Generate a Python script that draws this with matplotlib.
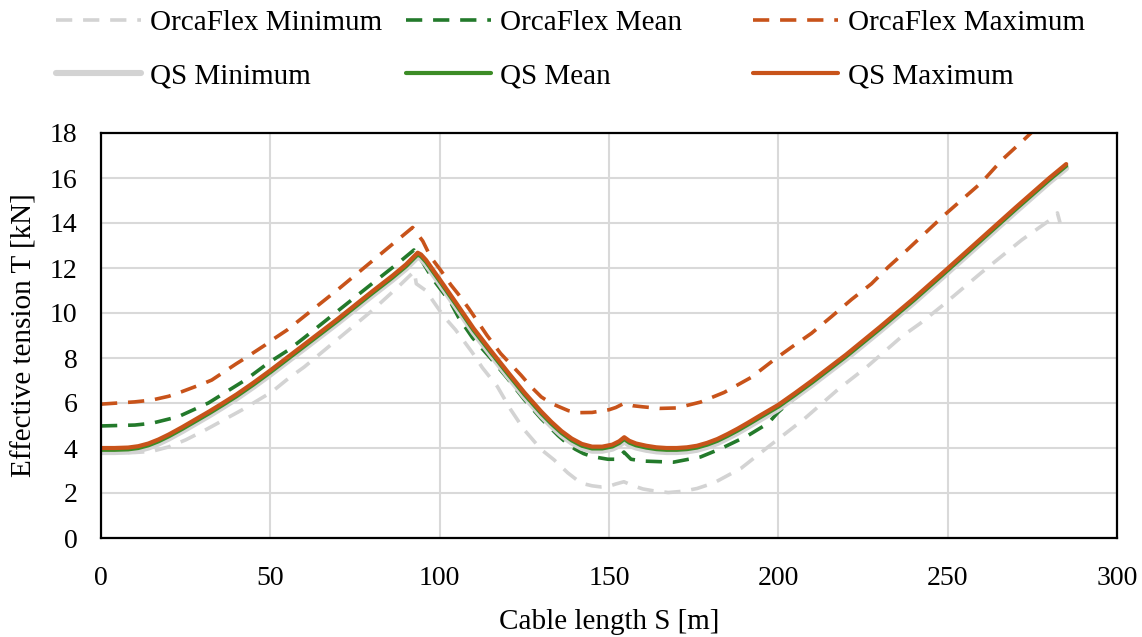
import matplotlib
matplotlib.use("Agg")
import matplotlib.pyplot as plt

plt.rcParams['font.family'] = ['Liberation Serif', 'DejaVu Serif']

# Effective tension along the cable, OrcaFlex dynamic envelope
of_min_s = [0, 10, 15, 20, 25, 30.8, 41.6, 50.5, 55.4, 60, 70, 80, 88, 92.5, 93.1,
            95.9, 101.2, 104.7, 109.7, 112.6, 117, 121, 124.9, 130, 133.8, 137.8,
            141.7, 145, 147.6, 150, 152, 154.4, 157, 160, 163, 167.5, 172, 176,
            181, 189, 197, 207.7, 217.6, 226.5, 236.4, 242, 248.2, 260, 271.9,
            279.9, 282.4, 283.2]
of_min_t = [3.8, 3.8, 3.85, 4.05, 4.36, 4.8, 5.69, 6.5, 7.1, 7.6, 8.85, 10.1, 11.2,
            11.85, 11.3, 11.0, 9.85, 9.25, 8.23, 7.57, 6.74, 5.7, 4.82, 3.93, 3.47,
            2.9, 2.44, 2.32, 2.27, 2.3, 2.4, 2.5, 2.33, 2.18, 2.1, 2.02, 2.08, 2.2,
            2.45, 3.1, 4.05, 5.3, 6.6, 7.65, 8.95, 9.55, 10.3, 11.8, 13.25, 14.1,
            14.45, 14.0]

of_mean_s = [0, 10, 15, 22.8, 31.7, 42.6, 49.4, 55.4, 60, 70, 80, 88, 92.4, 94.4,
             97.8, 103.3, 105.6, 109.7, 115, 120, 125, 130, 135, 137.5, 140, 142.5,
             145, 149.7, 152.5, 154.4, 156.5, 160, 169, 177, 183, 191, 197, 200, 203,
             206, 210, 220, 230, 240, 250, 260, 270, 280, 284]
of_mean_t = [4.98, 5.02, 5.1, 5.39, 6.0, 7.02, 7.78, 8.36, 8.9, 10.1, 11.3, 12.25,
             12.8, 12.4, 11.55, 10.45, 9.8, 8.9, 8.0, 7.1, 6.15, 5.3, 4.55, 4.22,
             3.95, 3.75, 3.62, 3.5, 3.5, 3.82, 3.5, 3.42, 3.37, 3.6, 3.97, 4.55, 5.1,
             5.6, 6.0, 6.35, 6.85, 8.02, 9.27, 10.52, 11.87, 13.2, 14.55, 15.85, 16.4]

of_max_s = [0, 10, 15, 20, 23.8, 30, 32.7, 40, 41.6, 48.5, 50, 55, 60, 70, 80, 88,
            92, 95, 97.3, 100.3, 103.3, 105.7, 108.6, 114, 118, 124, 127, 130, 133,
            135.8, 138, 140.8, 145, 150, 152, 154.4, 157, 160, 165, 170, 177, 184,
            192, 198.9, 203.8, 209.8, 215.7, 221.6, 227.5, 232.5, 237.3, 249, 260,
            266, 272.5, 276]
of_max_t = [5.95, 6.05, 6.13, 6.3, 6.5, 6.85, 7.02, 7.75, 7.9, 8.58, 8.75, 9.25,
            9.85, 11.05, 12.3, 13.3, 13.8, 13.2, 12.5, 11.9, 11.25, 10.8, 10.2, 9.0,
            8.2, 7.24, 6.72, 6.27, 5.98, 5.8, 5.66, 5.57, 5.58, 5.7, 5.8, 5.98, 5.88,
            5.83, 5.76, 5.78, 6.04, 6.47, 7.14, 7.94, 8.47, 9.1, 9.84, 10.6, 11.3,
            12.05, 12.7, 14.35, 15.8, 16.8, 17.7, 18.2]

# Quasi-static solution
qs_s = [0, 4, 8, 11, 14, 17, 20, 24, 28, 32, 36, 40, 45, 50, 60, 70, 80, 86, 90,
        92.3, 93.5, 94.5, 96, 100, 105, 110, 115, 120, 125, 130, 133, 136, 139, 142,
        145, 148, 151, 153, 154.5, 156, 158, 161, 164, 167, 170, 173, 176, 179, 182,
        185, 188, 191, 195, 200, 205, 210, 220, 230, 240, 250, 260, 270, 280, 285]
qs_max_t = [4.0, 4.0, 4.02, 4.08, 4.2, 4.38, 4.6, 4.93, 5.28, 5.63, 6.0, 6.38, 6.9,
            7.45, 8.6, 9.75, 10.95, 11.65, 12.15, 12.5, 12.68, 12.6, 12.35, 11.5,
            10.42, 9.32, 8.35, 7.4, 6.47, 5.62, 5.16, 4.75, 4.42, 4.18, 4.06, 4.06,
            4.15, 4.3, 4.48, 4.32, 4.2, 4.1, 4.03, 4.0, 4.0, 4.03, 4.1, 4.23, 4.4,
            4.62, 4.86, 5.12, 5.48, 5.92, 6.45, 7.0, 8.15, 9.38, 10.65, 11.98, 13.33,
            14.68, 16.0, 16.62]
qs_mean_t = [3.92, 3.92, 3.94, 4.0, 4.12, 4.3, 4.52, 4.85, 5.2, 5.55, 5.92, 6.3,
             6.82, 7.37, 8.52, 9.67, 10.87, 11.57, 12.07, 12.42, 12.6, 12.52, 12.27,
             11.42, 10.34, 9.24, 8.27, 7.32, 6.39, 5.54, 5.08, 4.67, 4.34, 4.1, 3.98,
             3.98, 4.07, 4.22, 4.4, 4.24, 4.12, 4.02, 3.95, 3.92, 3.92, 3.95, 4.02,
             4.15, 4.32, 4.54, 4.78, 5.04, 5.4, 5.84, 6.37, 6.92, 8.07, 9.3, 10.57,
             11.9, 13.25, 14.6, 15.92, 16.54]
qs_min_t = [3.82, 3.82, 3.84, 3.9, 4.02, 4.2, 4.42, 4.75, 5.1, 5.45, 5.82, 6.2,
            6.72, 7.27, 8.42, 9.57, 10.77, 11.47, 11.97, 12.32, 12.5, 12.42, 12.17,
            11.32, 10.24, 9.14, 8.17, 7.22, 6.29, 5.44, 4.98, 4.57, 4.24, 4.0, 3.88,
            3.88, 3.97, 4.12, 4.3, 4.14, 4.02, 3.92, 3.85, 3.82, 3.82, 3.85, 3.92,
            4.05, 4.22, 4.44, 4.68, 4.94, 5.3, 5.74, 6.27, 6.82, 7.97, 9.2, 10.47,
            11.8, 13.15, 14.5, 15.82, 16.44]

GREY = '#D3D3D3'
GREEN_DASH = '#237A2B'
GREEN = '#3C8C26'
ORANGE = '#C8531A'
dash = (0, (4.5, 3))

fig = plt.figure(figsize=(11.42, 6.37), dpi=100)
ax = fig.add_axes([101 / 1142, 1 - 538 / 637, 1016 / 1142, 405 / 637])

l1, = ax.plot(of_min_s, of_min_t, color=GREY, lw=2.6, linestyle=dash, label='OrcaFlex Minimum')
l2, = ax.plot(of_mean_s, of_mean_t, color=GREEN_DASH, lw=2.6, linestyle=dash, label='OrcaFlex Mean')
l3, = ax.plot(of_max_s, of_max_t, color=ORANGE, lw=2.6, linestyle=dash, label='OrcaFlex Maximum')
l4, = ax.plot(qs_s, qs_min_t, color=GREY, lw=4.4, label='QS Minimum', solid_capstyle='round')
l5, = ax.plot(qs_s, qs_mean_t, color=GREEN, lw=3.0, label='QS Mean', solid_capstyle='round')
l6, = ax.plot(qs_s, qs_max_t, color=ORANGE, lw=3.0, label='QS Maximum', solid_capstyle='round')

ax.set_xlim(0, 300)
ax.set_ylim(0, 18)
ax.set_xticks(range(0, 301, 50))
ax.set_yticks(range(0, 19, 2))
ax.grid(True, color='#D9D9D9', lw=1.5)
ax.set_axisbelow(True)
ax.tick_params(length=0, labelsize=20)
ax.tick_params(axis='x', pad=20)
ax.tick_params(axis='y', pad=17)
for sp in ax.spines.values():
    sp.set_color('black')
    sp.set_linewidth(1.6)

ax.set_xlabel('Cable length S [m]', fontsize=21, va='center')
ax.xaxis.set_label_coords(0.5, (538 - 622) / 405)
ax.set_ylabel('Effective tension T [kN]', fontsize=21, va='center')
ax.yaxis.set_label_coords((25 - 101) / 1016, 0.5)

# legend laid out as three fixed-width columns, two rows
cols = [([l1, l4], 56), ([l2, l5], 406), ([l3, l6], 753)]
for handles, x0 in cols:
    fig.legend(handles=handles, loc='upper left', bbox_to_anchor=(x0 / 1142, 1 - 10 / 637),
               frameon=False, fontsize=21, handlelength=2.9, handletextpad=0.34,
               labelspacing=0.9, borderpad=0, borderaxespad=0)

fig.savefig('out.png', dpi=100)
